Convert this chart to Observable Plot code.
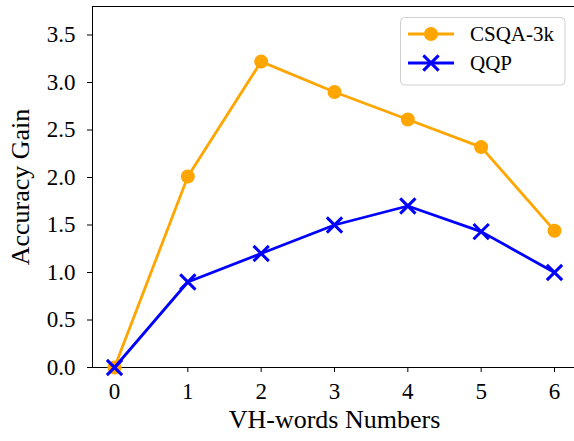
<!DOCTYPE html>
<html>
<head>
<meta charset="utf-8">
<script src="https://cdn.jsdelivr.net/npm/d3@7"></script>
<script src="https://cdn.jsdelivr.net/npm/@observablehq/plot@0.6"></script>
<style>
  html, body { margin: 0; padding: 0; background: #fff; }
  #chart svg { display: block; }
  #chart svg text { font-family: "Liberation Serif", "Times New Roman", serif !important; font-variant-numeric: normal !important; }
</style>
</head>
<body>
<div id="chart"></div>
<script>
const xValues = [0, 1, 2, 3, 4, 5, 6];
const csqa = [0.0, 2.01, 3.22, 2.90, 2.61, 2.32, 1.44];
const qqp = [0.0, 0.90, 1.20, 1.50, 1.70, 1.43, 1.00];
const seriesNames = ["CSQA-3k", "QQP"];
const seriesColors = ["#FFA500", "#0000FF"];
const yTicks = [0, 0.5, 1.0, 1.5, 2.0, 2.5, 3.0, 3.5];
const xTicks = [0, 1, 2, 3, 4, 5, 6];

const dataA = xValues.map((x, i) => ({x, y: csqa[i]}));
const dataB = xValues.map((x, i) => ({x, y: qqp[i]}));

const font = "Liberation Serif";

const plot = Plot.plot({
  width: 574,
  height: 441,
  marginLeft: 92,
  marginTop: 6,
  marginBottom: 74,
  marginRight: -2,
  style: {fontFamily: font, background: "#fff", overflow: "visible"},
  x: {domain: [-0.3, 6.3]},
  y: {domain: [0, 3.8]},
  marks: [
    Plot.axisX({ticks: xTicks, tickFormat: d => String(d), tickSize: 5, tickPadding: 10, fontSize: 23, label: null, stroke: "#000", color: "#000"}),
    Plot.axisY({ticks: yTicks, tickFormat: d3.format(".1f"), tickSize: 5, tickPadding: 12, fontSize: 23, label: null, stroke: "#000", color: "#000"}),
    Plot.frame({stroke: "#000", strokeWidth: 1}),
    Plot.line(dataA, {x: "x", y: "y", stroke: seriesColors[0], strokeWidth: 2.8}),
    Plot.dot(dataA, {x: "x", y: "y", fill: seriesColors[0], r: 7}),
    Plot.line(dataB, {x: "x", y: "y", stroke: seriesColors[1], strokeWidth: 2.8}),
    Plot.dot(dataB, {x: "x", y: "y", symbol: "times", stroke: seriesColors[1], strokeWidth: 3, r: 7}),
    Plot.text(["Accuracy Gain"], {frameAnchor: "left", dx: -72, rotate: -90, fontSize: 26, fill: "#000", textAnchor: "middle"}),
    Plot.text(["VH-words Numbers"], {frameAnchor: "bottom", dy: 60, fontSize: 26, fill: "#000", textAnchor: "middle"})
  ]
});

document.getElementById("chart").appendChild(plot);

// Legend
const svg = d3.select(plot);
const lg = svg.append("g");
lg.append("rect").attr("x", 400.5).attr("y", 17.5).attr("width", 164.5).attr("height", 67.5)
  .attr("rx", 4).attr("fill", "#fff").attr("fill-opacity", 0.8).attr("stroke", "#d0d0d0");
const rows = [34, 63];
seriesNames.forEach((name, i) => {
  const y = rows[i];
  lg.append("line").attr("x1", 408).attr("x2", 454).attr("y1", y).attr("y2", y)
    .attr("stroke", seriesColors[i]).attr("stroke-width", 2.8);
  if (i === 0) {
    lg.append("circle").attr("cx", 431).attr("cy", y).attr("r", 7).attr("fill", seriesColors[i]);
  } else {
    lg.append("path").attr("transform", `translate(431,${y})`)
      .attr("d", d3.symbol(d3.symbolTimes, Math.PI * 49)())
      .attr("fill", "none").attr("stroke", seriesColors[i]).attr("stroke-width", 3);
  }
  lg.append("text").attr("x", 470).attr("y", y).attr("dy", "0.35em")
    .attr("text-anchor", "start").attr("font-size", 21).attr("fill", "#000").text(name);
});
</script>
</body>
</html>
